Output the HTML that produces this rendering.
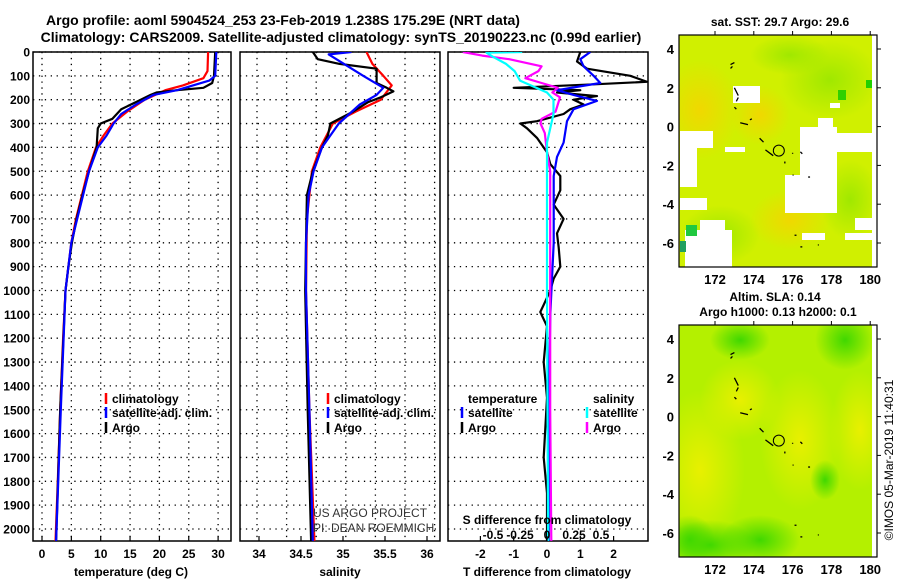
<!DOCTYPE html>
<html><head><meta charset="utf-8"><style>
body{margin:0;background:#fff;}
svg{display:block;font-family:"Liberation Sans",sans-serif;font-weight:bold;}
</style></head><body>
<svg id="c" width="900" height="580" viewBox="0 0 900 580">
<g font-size="14" text-anchor="middle">
<text x="283" y="25">Argo profile: aoml 5904524_253 23-Feb-2019 1.238S 175.29E (NRT data)</text>
<text x="341" y="42">Climatology: CARS2009. Satellite-adjusted climatology: synTS_20190223.nc (0.99d earlier)</text>
</g>
<g id="plots"></g>
<g id="maps"></g>
</svg>
<script>
const depthTicks=[0,100,200,300,400,500,600,700,800,900,1000,1100,1200,1300,1400,1500,1600,1700,1800,1900,2000];
const tempTicks=[0,5,10,15,20,25,30];
const salTicks=[34,34.5,35,35.5,36];
const tdTicks=[-2,-1,0,1,2];
const sdTicks=[-0.5,-0.25,0,0.25,0.5];
const tempClim=[[0,28.3],[80,28.2],[110,27.5],[140,24],[160,21],[200,17.5],[250,14.5],[300,12],[350,10.5],[400,9.2],[500,7.8],[600,6.8],[700,5.8],[800,5],[900,4.5],[1000,4.0],[1200,3.6],[1500,3.1],[1800,2.7],[2050,2.3]];
const tempSat=[[0,29.7],[100,29.5],[120,28.5],[160,23],[180,19],[220,16],[260,13.5],[300,12.2],[350,11],[400,9.5],[500,8],[600,7],[700,6],[800,5],[1000,4],[1500,3.2],[2050,2.4]];
const tempArgo=[[0,29.5],[100,29.3],[130,29],[150,27.5],[160,23],[170,19.5],[180,18.5],[210,16],[240,13.5],[280,12],[300,10],[320,9.5],[400,9.3],[500,8],[600,6.9],[700,5.9],[800,5.1],[900,4.5],[1000,4.0],[1500,3.1],[2050,2.4]];
const salClim=[[0,35.28],[50,35.35],[100,35.48],[140,35.58],[200,35.45],[250,35.15],[300,34.88],[400,34.73],[500,34.63],[700,34.57],[1000,34.56],[1500,34.6],[2050,34.66]];
const salSat=[[0,35.1],[10,34.83],[100,35.24],[150,35.48],[180,35.4],[220,35.2],[300,34.95],[400,34.75],[500,34.65],[600,34.59],[800,34.56],[1000,34.56],[1500,34.6],[2050,34.64]];
const salArgo=[[0,34.64],[30,34.7],[50,34.96],[70,35.4],[100,35.4],[130,35.4],[150,35.52],[165,35.6],[190,35.45],[210,35.3],[250,35.12],[300,34.85],[350,34.82],[400,34.75],[500,34.64],[600,34.57],[800,34.56],[1000,34.55],[1500,34.58],[2050,34.62]];
const tdSat=[[0,1.3],[30,1.0],[60,1.1],[100,1.4],[130,1.6],[160,0.3],[180,0.8],[205,1.5],[240,0.8],[290,0.6],[380,0.5],[440,0.3],[520,0.2],[800,0.2],[1100,0.1],[1500,0.05],[2050,0.05]];
const tdArgo=[[0,1.0],[40,0.9],[70,1.2],[100,2.5],[125,3.0],[135,1.5],[150,-1.0],[160,1.0],[170,0.3],[185,1.5],[200,0.8],[220,1.1],[240,0.7],[260,0.5],[290,-0.3],[300,-0.8],[320,-0.6],[360,-0.3],[420,0],[470,0.1],[520,0.4],[580,0.4],[640,0.2],[700,0.5],[760,0.3],[820,0.35],[900,0.4],[950,0.2],[1000,0.1],[1060,-0.1],[1090,-0.2],[1150,0],[1300,-0.1],[1450,0],[1700,-0.1],[1850,0],[2050,0]];
const sdSat=[[0,-0.23],[3,-0.56],[20,-0.5],[50,-0.38],[80,-0.3],[120,-0.25],[150,-0.1],[170,0],[200,0.06],[260,0.06],[380,0],[1000,0],[2050,0.01]];
const sdArgo=[[0,-0.78],[15,-0.6],[30,-0.35],[60,-0.05],[80,-0.08],[110,-0.2],[130,-0.05],[150,0.1],[170,0.05],[190,0.12],[220,0.1],[250,0.08],[280,-0.05],[300,-0.06],[340,-0.02],[420,0],[500,0.03],[1000,0.03],[1500,0.03],[2050,0.04]];
const lonTicks=[172,174,176,178,180];
const latTicks=[4,2,0,-2,-4,-6];

const NS='http://www.w3.org/2000/svg';
function mk(p,t,a){const e=document.createElementNS(NS,t);for(const k in a)e.setAttribute(k,a[k]);p.appendChild(e);return e;}
const TOP=52,BOT=541;
const yD=d=>TOP+d*0.2385;
const xT=v=>42+v*5.87;
const xS=v=>259+(v-34)*84;
const xTD=v=>547+v*33.3;
const xSD=v=>547+v*108;
const plots=document.getElementById('plots');
const panels=[[33,231,'temperature-panel'],[240,440,'salinity-panel'],[448,648,'difference-panel']];
const clip=mk(plots,'defs',{});
panels.forEach((p,i)=>{
  const g=mk(plots,'g',{});
  
  
  const cp=mk(clip,'clipPath',{id:'cp'+i});mk(cp,'rect',{x:p[0],y:TOP,width:p[1]-p[0],height:BOT-TOP});
  depthTicks.forEach(d=>{const l=mk(g,'line',{x1:p[0],x2:p[1],y1:yD(d),y2:yD(d),stroke:'#000','stroke-width':1.3,'stroke-dasharray':'1.3 4.6'});
    });
  let vx=[];
  if(i==0)vx=tempTicks.map(xT);
  if(i==1)for(let x=257;x<p[1];x+=29.6)vx.push(x);
  vx.forEach(x=>{const l=mk(g,'line',{x1:x,x2:x,y1:TOP,y2:BOT,stroke:'#000','stroke-width':1.3,'stroke-dasharray':'1.3 4.6'});
    });
  const r=mk(g,'rect',{x:p[0],y:TOP,width:p[1]-p[0],height:BOT-TOP,fill:'none',stroke:'#000','stroke-width':1.5});
  
});
depthTicks.forEach(d=>{const t=mk(plots,'text',{x:30,y:yD(d)+4.5,'text-anchor':'end','font-size':12});t.textContent=d;
  });
function line(arr,xf,col,i,name,w){
  const pts=arr.map(p=>xf(p[1]).toFixed(1)+','+yD(p[0]).toFixed(1)).join(' ');
  const e=mk(plots,'polyline',{points:pts,fill:'none',stroke:col,'stroke-width':w||2.2,'clip-path':'url(#cp'+i+')','stroke-linejoin':'round'});
  
}
line(tempClim,xT,'#f00',0,'temp-climatology-line');
line(tempArgo,xT,'#000',0,'temp-argo-line');
line(tempSat,xT,'#00f',0,'temp-satellite-line');
line(salClim,xS,'#f00',1,'sal-climatology-line');
line(salArgo,xS,'#000',1,'sal-argo-line');
line(salSat,xS,'#00f',1,'sal-satellite-line');
line(tdArgo,xTD,'#000',2,'tdiff-argo-line');
line(tdSat,xTD,'#00f',2,'tdiff-satellite-line');
line(sdArgo,xSD,'#f0f',2,'sdiff-argo-line');
line(sdSat,xSD,'#0ff',2,'sdiff-satellite-line');
function txt(x,y,s,name,opt){const t=mk(plots,'text',Object.assign({x:x,y:y,'font-size':12},opt||{}));t.textContent=s;
  return t;}
function tickrow(ticks,xf,name,y){ticks.forEach(v=>{
  const l=mk(plots,'line',{x1:xf(v),x2:xf(v),y1:BOT,y2:BOT-5,stroke:'#000','stroke-width':1.2});
  
  txt(xf(v),y,String(v),name,{'text-anchor':'middle'});});}
tickrow(tempTicks,xT,'temp-tick-label',558);
tickrow(salTicks,xS,'sal-tick-label',558);
tickrow(tdTicks,xTD,'tdiff-tick-label',558);
sdTicks.forEach(v=>{txt(xSD(v),539,String(v),'sdiff-tick-label',{'text-anchor':'middle'});});
txt(131,576,'temperature (deg C)','temp-axis-title',{'text-anchor':'middle'});
txt(340,576,'salinity','sal-axis-title',{'text-anchor':'middle'});
txt(547,576,'T difference from climatology','tdiff-axis-title',{'text-anchor':'middle'});
txt(547,524,'S difference from climatology','sdiff-axis-title',{'text-anchor':'middle'});
txt(313,517,'US ARGO PROJECT','project-note',{'font-weight':'normal','fill':'#333'});
txt(313,532,'PI: DEAN ROEMMICH','pi-note',{'font-weight':'normal','fill':'#333'});
function leg(x,y,col,s,name){if(col){const l=mk(plots,'line',{x1:x-6,x2:x-6,y1:y-10,y2:y+1,stroke:col,'stroke-width':2.5});
  }
  txt(x,y,s,name);}
leg(112,403,'#f00','climatology','legend-climatology');
leg(112,417,'#00f','satellite-adj. clim.','legend-satellite');
leg(112,432,'#000','Argo','legend-argo');
leg(334,403,'#f00','climatology','legend-climatology');
leg(334,417,'#00f','satellite-adj. clim.','legend-satellite');
leg(334,432,'#000','Argo','legend-argo');
leg(468,403,null,'temperature','legend-temperature-heading');
leg(468,417,'#00f','satellite','legend-t-satellite');
leg(468,432,'#000','Argo','legend-t-argo');
leg(593,403,null,'salinity','legend-salinity-heading');
leg(593,417,'#0ff','satellite','legend-s-satellite');
leg(593,432,'#f0f','Argo','legend-s-argo');

// maps
const maps=document.getElementById('maps');
const ML=679,MR=877,DR=872;
const xL=v=>715+(v-172)*19.4;
const defs=mk(maps,'defs',{});
const c1=mk(defs,'clipPath',{id:'mc1'});mk(c1,'rect',{x:ML,y:35,width:DR-ML,height:232});
const c2=mk(defs,'clipPath',{id:'mc2'});mk(c2,'rect',{x:ML,y:325,width:DR-ML,height:232});
function rg(id,c){const r=mk(defs,'radialGradient',{id:id});mk(r,'stop',{offset:'0','stop-color':c,'stop-opacity':1});mk(r,'stop',{offset:'1','stop-color':c,'stop-opacity':0});}
rg('gG','#40d800');rg('gY','#e8f000');rg('gO','#f0d800');rg('gL','#a0e800');
const g=mk(maps,'g',{'clip-path':'url(#mc1)'});

mk(g,'rect',{x:ML,y:35,width:DR-ML,height:232,fill:'#d0f000'});
[['gO',700,110,40,50],['gO',760,115,30,30],['gL',830,80,50,40],['gL',720,235,40,30],['gL',850,200,30,40],['gO',790,220,40,30],['gL',790,55,40,20]].forEach(b=>{
  const e=mk(g,'ellipse',{cx:b[1],cy:b[2],rx:b[3],ry:b[4],fill:'url(#'+b[0]+')'});});
[[733,86,27,17],[680,131,33,17],[680,148,17,39],[725,147,20,5],[800,127,37,86],[785,175,22,38],[833,133,39,19],[818,118,15,15],[830,103,10,5],[680,198,27,12],[685,230,47,37],[700,220,25,12],[802,233,23,7],[845,233,27,7],[855,218,17,12]].forEach(r=>{
  const e=mk(g,'rect',{x:r[0],y:r[1],width:r[2],height:r[3],fill:'#fff'});});
[[686,225,11,11,'#20c840'],[680,241,6,11,'#20a060'],[838,90,8,10,'#30d000'],[866,80,6,8,'#20d000']].forEach(r=>{mk(g,'rect',{x:r[0],y:r[1],width:r[2],height:r[3],fill:r[4]});});
const g2=mk(maps,'g',{'clip-path':'url(#mc2)'});

mk(g2,'rect',{x:ML,y:325,width:DR-ML,height:232,fill:'#b4f000'});
[['gY',700,470,45,80],['gY',800,440,40,70],['gY',860,430,30,60],['gY',740,400,40,40],['gG',845,340,30,30],['gG',710,545,45,25],['gG',760,540,40,25],['gG',825,480,15,20],['gG',740,340,30,20],['gG',690,540,25,25]].forEach(b=>{
  const e=mk(g2,'ellipse',{cx:b[1],cy:b[2],rx:b[3],ry:b[4],fill:'url(#'+b[0]+')'});});
[[35,267],[325,557]].forEach((tb,k)=>{
  const top=tb[0],yL=v=>top+14+(4-v)*19.4;
  const gg=mk(maps,'g',{});
  
  const f=mk(gg,'rect',{x:ML,y:top,width:MR-ML,height:tb[1]-top,fill:'none',stroke:'#000','stroke-width':1.2});
  
  latTicks.forEach(v=>{const t=mk(gg,'text',{x:674,y:yL(v)+5,'text-anchor':'end','font-size':13});t.textContent=v;
    
    mk(gg,'line',{x1:MR,x2:MR+4,y1:yL(v),y2:yL(v),stroke:'#000'});});
  lonTicks.forEach(v=>{const t=mk(gg,'text',{x:xL(v),y:tb[1]+17,'text-anchor':'middle','font-size':13});t.textContent=v;
    
    mk(gg,'line',{x1:xL(v),x2:xL(v),y1:top,y2:top-4,stroke:'#000'});});
  const c=mk(gg,'circle',{cx:xL(175.29),cy:yL(-1.238),r:5.5,fill:'none',stroke:'#000','stroke-width':1});
  
  [[172.8,3.2,173,3.3],[172.8,3.0,172.9,3.1],[173,2,173.2,1.6],[173.2,1.5,173.1,1.3],[173,1,173.1,0.9],[173.3,0.2,173.7,0.1],[173.8,0.35,173.9,0.4],[174.3,-0.6,174.5,-0.8],[174.6,-1.2,175,-1.5],[175.6,-1.8,175.6,-1.9],[176,-1.4,176,-1.35],[176.4,-1.3,176.5,-1.4],[176,-2.5,176.05,-2.5],[176.8,-2.6,176.9,-2.6],[176.1,-5.6,176.2,-5.6],[176.4,-6.2,176.5,-6.2],[177.3,-6.1,177.35,-6.1]].forEach(s=>{
    mk(gg,'line',{x1:xL(s[0]),y1:yL(s[1]),x2:xL(s[2]),y2:yL(s[3]),stroke:'#000','stroke-width':1.3});});
});
function mt(x,y,s,name,opt){const t=mk(maps,'text',Object.assign({x:x,y:y,'font-size':12,'text-anchor':'middle'},opt||{}));t.textContent=s;
  }
mt(780,26,'sat. SST: 29.7 Argo: 29.6','sst-map-title');
mt(775,301,'Altim. SLA: 0.14','sla-map-title');
mt(778,316,'Argo h1000: 0.13 h2000: 0.1','argo-height-subtitle');
mt(893,460,'©IMOS 05-Mar-2019 11:40:31','timestamp-credit',{transform:'rotate(-90 893 460)','font-weight':'normal'});
</script>
</body></html>
